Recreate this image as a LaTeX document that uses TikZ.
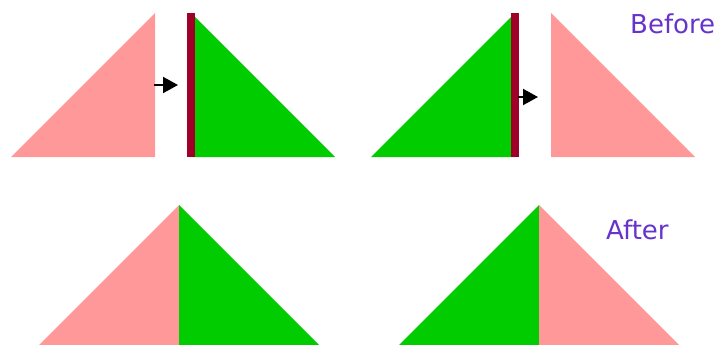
\documentclass[tikz,border=0pt]{standalone}
\usepackage{fontspec}
\setmainfont{DejaVu Sans}
\usetikzlibrary{arrows.meta}
\definecolor{pinkc}{HTML}{FF9999}
\definecolor{greenc}{HTML}{00CC00}
\definecolor{barc}{HTML}{A00028}
\definecolor{purc}{HTML}{6633CC}
\tikzset{
  pinktri/.style={fill=pinkc},
  greentri/.style={fill=greenc},
  barstyle/.style={fill=barc},
  pusharrow/.style={draw=black, line width=2pt, -{Triangle[length=15pt,width=16pt]}},
  label/.style={font=\fontsize{26}{30}\selectfont, text=purc, anchor=base west, inner sep=0pt}
}
\begin{document}
\begin{tikzpicture}[x=1pt,y=-1pt]
\useasboundingbox (0,0) rectangle (720,345);
% top left
\fill[pinktri] (11,157) -- (155,13) -- (155,157) -- cycle;
\fill[greentri] (191,13) -- (335,157) -- (191,157) -- cycle;
\fill[barstyle] (187,13) rectangle (195,157);
\coordinate (a1) at (154,85);
\coordinate (b1) at (178,85);
\draw[pusharrow] (a1) -- (b1);
% top right
\fill[greentri] (371,157) -- (515,13) -- (515,157) -- cycle;
\fill[barstyle] (511,13) rectangle (519,157);
\fill[pinktri] (551,13) -- (695,157) -- (551,157) -- cycle;
\coordinate (a2) at (518,97);
\coordinate (b2) at (538,97);
\draw[pusharrow] (a2) -- (b2);
% bottom left
\fill[pinktri] (39,345) -- (179,205) -- (179,345) -- cycle;
\fill[greentri] (179,205) -- (319,345) -- (179,345) -- cycle;
% bottom right
\fill[greentri] (399,345) -- (539,205) -- (539,345) -- cycle;
\fill[pinktri] (539,205) -- (679,345) -- (539,345) -- cycle;
% labels
\node[label] (before) at (630,34) {Before};
\node[label] (after) at (606,239) {After};
\end{tikzpicture}
\end{document}
